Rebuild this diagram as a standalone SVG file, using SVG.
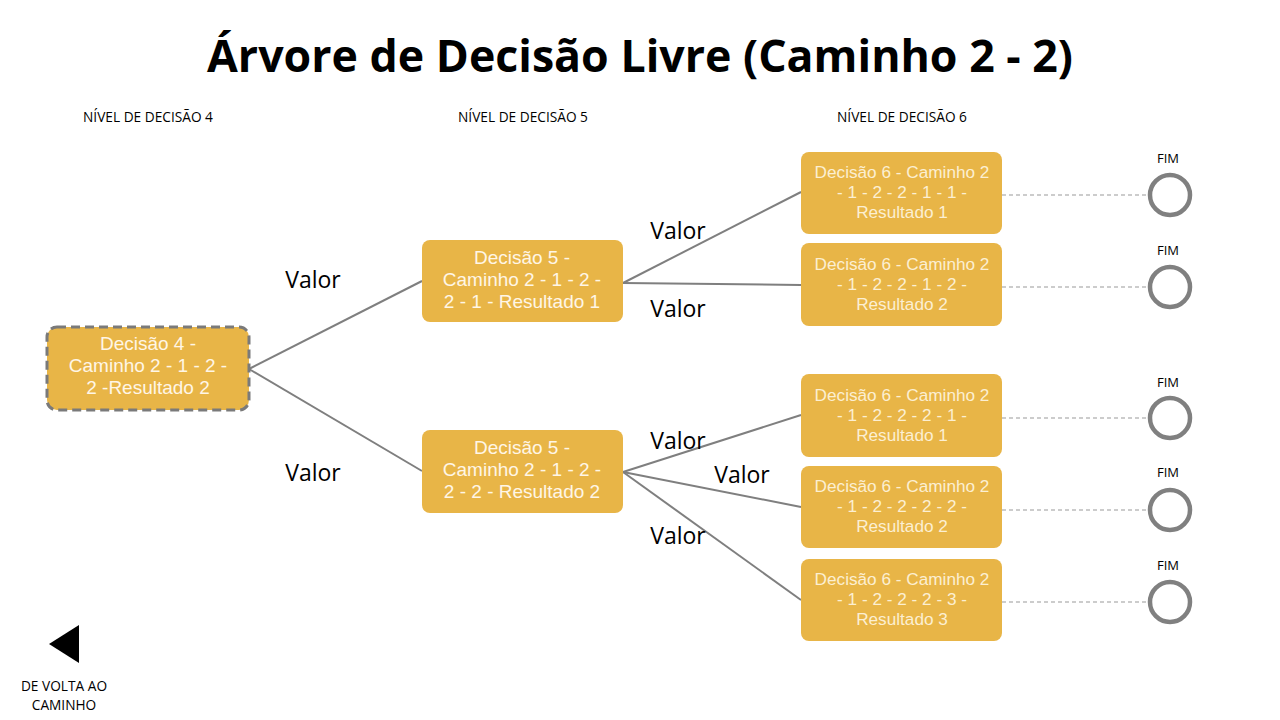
<svg xmlns="http://www.w3.org/2000/svg" width="1280" height="720" viewBox="0 0 1280 720">
<style>
text{font-family:"Open Sans","Liberation Sans",sans-serif;}
.title{font-size:44px;font-weight:bold;fill:#000;text-anchor:middle;}
.lvl{font-size:13.7px;fill:#000;text-anchor:middle;}
.box{fill:#E8B547;}
.nt{font-family:"Liberation Sans",Arial,sans-serif;font-size:19px;fill:#FFF6E6;text-anchor:middle;}
.nt6{font-family:"Liberation Sans",Arial,sans-serif;font-size:17.2px;fill:#FCEFD2;text-anchor:middle;}
.val{font-size:23px;fill:#000;text-anchor:middle;}
.edge{stroke:#7F7F7F;stroke-width:2;fill:none;}
.dash{stroke:#9A9A9A;stroke-width:1.2;stroke-dasharray:4 3;fill:none;}
.end{fill:#fff;stroke:#808080;stroke-width:4.5;}
.fim{font-size:13px;fill:#000;text-anchor:middle;}
</style>
<rect width="1280" height="720" fill="#fff"/>
<text class="title" x="640" y="72" textLength="866" lengthAdjust="spacingAndGlyphs">Árvore de Decisão Livre (Caminho 2 - 2)</text>
<g id="levels">
<text class="lvl" x="148" y="122">NÍVEL DE DECISÃO 4</text>
<text class="lvl" x="523" y="122">NÍVEL DE DECISÃO 5</text>
<text class="lvl" x="902" y="122">NÍVEL DE DECISÃO 6</text>
</g>
<g id="connectors">
<line class="edge" x1="249" y1="369" x2="422" y2="281"/>
<line class="edge" x1="249" y1="369" x2="422" y2="471"/>
<line class="edge" x1="623" y1="283" x2="801" y2="192"/>
<line class="edge" x1="623" y1="283" x2="801" y2="285"/>
<line class="edge" x1="623" y1="472" x2="801" y2="415"/>
<line class="edge" x1="623" y1="472" x2="801" y2="507"/>
<line class="edge" x1="623" y1="472" x2="801" y2="600"/>
<line class="dash" x1="1002" y1="195" x2="1148" y2="195"/>
<line class="dash" x1="1002" y1="287" x2="1148" y2="287"/>
<line class="dash" x1="1002" y1="418" x2="1148" y2="418"/>
<line class="dash" x1="1002" y1="510" x2="1148" y2="510"/>
<line class="dash" x1="1002" y1="602" x2="1148" y2="602"/>
<text class="val" x="313" y="288">Valor</text>
<text class="val" x="313" y="481">Valor</text>
<text class="val" x="678" y="239">Valor</text>
<text class="val" x="678" y="317">Valor</text>
<text class="val" x="678" y="449">Valor</text>
<text class="val" x="742" y="483">Valor</text>
<text class="val" x="678" y="544">Valor</text>
</g>
<g id="d4">
<rect x="47" y="327" width="202" height="83" rx="10" fill="#E8B547" stroke="#7A7A7A" stroke-width="3" stroke-dasharray="9 5"/>
<text class="nt" x="148" y="350">Decisão 4 -</text>
<text class="nt" x="148" y="372">Caminho 2 - 1 - 2 -</text>
<text class="nt" x="148" y="394">2 -Resultado 2</text>
</g>
<g id="d5a">
<rect class="box" x="422" y="240" width="201" height="82" rx="8"/>
<text class="nt" x="522" y="264">Decisão 5 -</text>
<text class="nt" x="522" y="286">Caminho 2 - 1 - 2 -</text>
<text class="nt" x="522" y="308">2 - 1 - Resultado 1</text>
</g>
<g id="d5b">
<rect class="box" x="422" y="430" width="201" height="83" rx="8"/>
<text class="nt" x="522" y="454">Decisão 5 -</text>
<text class="nt" x="522" y="476">Caminho 2 - 1 - 2 -</text>
<text class="nt" x="522" y="498">2 - 2 - Resultado 2</text>
</g>
<g id="d6a">
<rect class="box" x="801" y="152" width="201" height="82" rx="8"/>
<text class="nt6" x="902" y="178">Decisão 6 - Caminho 2</text>
<text class="nt6" x="902" y="198">- 1 - 2 - 2 - 1 - 1 -</text>
<text class="nt6" x="902" y="218">Resultado 1</text>
</g>
<g id="d6b">
<rect class="box" x="801" y="243" width="201" height="83" rx="8"/>
<text class="nt6" x="902" y="270">Decisão 6 - Caminho 2</text>
<text class="nt6" x="902" y="290">- 1 - 2 - 2 - 1 - 2 -</text>
<text class="nt6" x="902" y="310">Resultado 2</text>
</g>
<g id="d6c">
<rect class="box" x="801" y="374" width="201" height="83" rx="8"/>
<text class="nt6" x="902" y="401">Decisão 6 - Caminho 2</text>
<text class="nt6" x="902" y="421">- 1 - 2 - 2 - 2 - 1 -</text>
<text class="nt6" x="902" y="441">Resultado 1</text>
</g>
<g id="d6d">
<rect class="box" x="801" y="466" width="201" height="82" rx="8"/>
<text class="nt6" x="902" y="492">Decisão 6 - Caminho 2</text>
<text class="nt6" x="902" y="512">- 1 - 2 - 2 - 2 - 2 -</text>
<text class="nt6" x="902" y="532">Resultado 2</text>
</g>
<g id="d6e">
<rect class="box" x="801" y="559" width="201" height="82" rx="8"/>
<text class="nt6" x="902" y="585">Decisão 6 - Caminho 2</text>
<text class="nt6" x="902" y="605">- 1 - 2 - 2 - 2 - 3 -</text>
<text class="nt6" x="902" y="625">Resultado 3</text>
</g>
<g id="end1"><text class="fim" x="1168" y="163">FIM</text><circle class="end" cx="1170" cy="195" r="20"/></g>
<g id="end2"><text class="fim" x="1168" y="255">FIM</text><circle class="end" cx="1170" cy="287" r="20"/></g>
<g id="end3"><text class="fim" x="1168" y="387">FIM</text><circle class="end" cx="1170" cy="418" r="20"/></g>
<g id="end4"><text class="fim" x="1168" y="477">FIM</text><circle class="end" cx="1170" cy="510" r="20"/></g>
<g id="end5"><text class="fim" x="1168" y="570">FIM</text><circle class="end" cx="1170" cy="602" r="20"/></g>
<g id="back">
<polygon points="49,644 79,625 79,663" fill="#000"/>
<text class="lvl" x="64" y="691">DE VOLTA AO</text>
<text class="lvl" x="64" y="710">CAMINHO</text>
</g>
</svg>
